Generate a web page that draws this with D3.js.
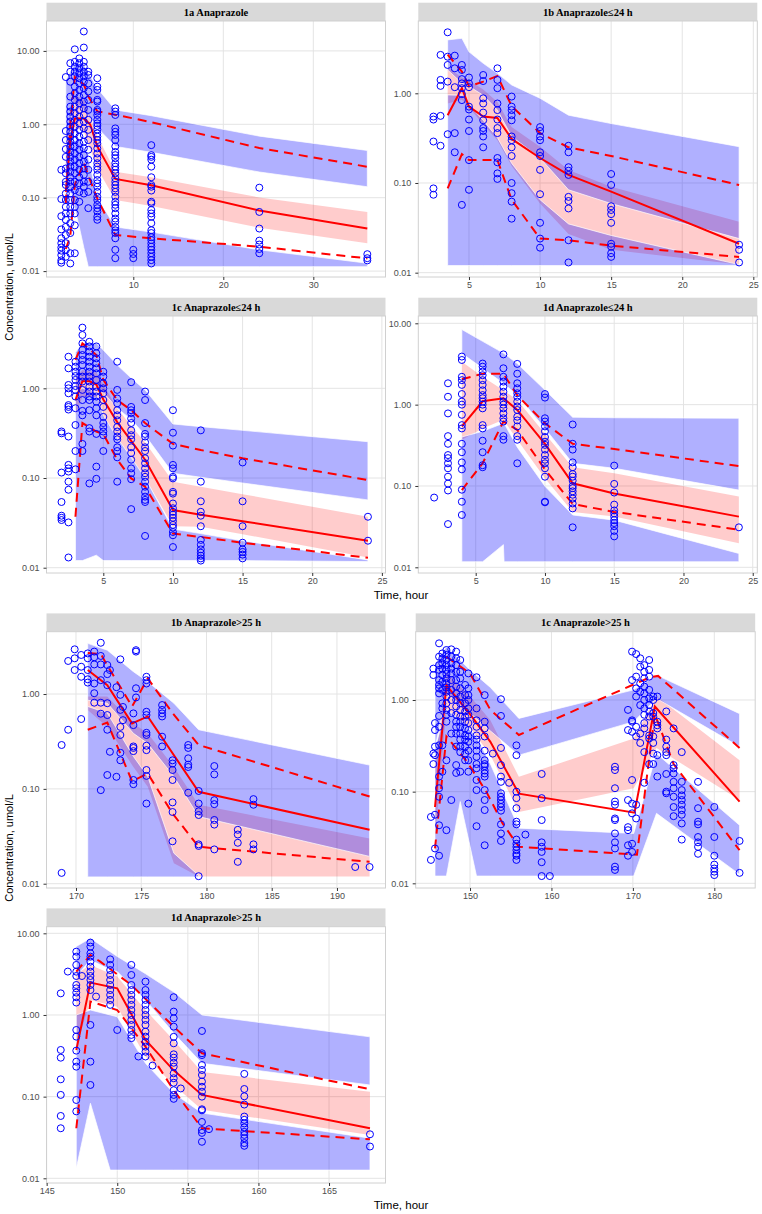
<!DOCTYPE html>
<html>
<head>
<meta charset="utf-8">
<script src="https://cdn.jsdelivr.net/npm/d3@7"></script>
<style>
  body { margin: 0; background: #fff; }
  .tick text { font-family: "Liberation Sans", Arial, sans-serif; font-size: 9px; fill: #4d4d4d; }
  .tick line { stroke: #333; }
</style>
</head>
<body>
<div id="chart"></div>
<script>
// ---- observed concentrations, [time, [values...]] per sampling column ----
const obs1a = [
  [2.0, [0.24,0.096,0.056,0.037,0.028,0.024,0.021,0.019,0.0165,0.014,0.013]],
  [2.5, [4.4,0.81,0.61,0.46,0.36,0.25,0.215,0.165,0.149,0.114,0.093,0.075,0.061,0.05,0.04,0.031,0.024,0.0195,0.0157]],
  [3.0, [6.8,5.2,3.8,2.38,1.74,1.49,1.27,1.09,0.93,0.79,0.68,0.58,0.5,0.42,0.36,0.31,0.265,0.226,0.19,0.165,0.141,0.114,0.093,0.075,0.061,0.045,0.033,0.0175,0.0127]],
  [3.5, [10.5,7.1,6.1,5.2,4.5,3.26,2.65,2.15,1.74,1.41,1.15,0.93,0.75,0.61,0.5,0.4,0.33,0.265,0.215,0.165,0.127,0.093,0.075,0.061,0.042,0.0175]],
  [4.0, [7.9,6.8,5.8,4.96,4.24,3.62,2.94,2.38,1.93,1.57,1.27,1.03,0.84,0.68,0.55,0.45,0.36,0.295,0.24,0.19,0.157,0.12,0.088]],
  [4.5, [18.4,11.1,7.1,6.1,5.2,4.5,3.8,3.1,2.5,2.04,1.65,1.34,1.09,0.88,0.715,0.58,0.47,0.38,0.31,0.25,0.205,0.165,0.141,0.114]],
  [5.0, [5.2,4.7,3.6,2.8,2.15,1.57,1.15,0.84,0.61,0.45,0.33,0.24,0.165,0.12,0.072]],
  [6.0, [4.24,3.26,2.94,2.15,2.04,1.57,1.49,1.34,1.15,1.03,0.95,0.85,0.75,0.68,0.61,0.55,0.47,0.4,0.345,0.295,0.265,0.24,0.205,0.174,0.157,0.141,0.12,0.103,0.093,0.08,0.072,0.065,0.055,0.05]],
  [8.0, [1.65,1.49,1.34,0.88,0.79,0.715,0.61,0.5,0.42,0.38,0.345,0.295,0.265,0.24,0.215,0.184,0.165,0.149,0.134,0.12,0.103,0.088,0.08,0.072,0.061,0.052,0.047,0.04,0.036,0.033,0.028,0.0195,0.015]],
  [10, [0.0195,0.0171,0.015]],
  [12, [0.52,0.38,0.36,0.33,0.265,0.19,0.149,0.141,0.125,0.088,0.084,0.068,0.061,0.055,0.045,0.036,0.033,0.029,0.0265,0.0238,0.0215,0.0195,0.0175,0.0157,0.0141,0.0127]],
  [24, [0.137,0.064,0.038,0.026,0.023,0.02,0.0175]],
  [36, [0.017,0.015,0.014]]
];
const obs1b = [
  [2.5, [0.55,0.51,0.29,0.087,0.074]],
  [3, [2.68,1.41,1.21,0.56,0.26]],
  [3.5, [4.79,2.56,2.07,1.35,0.35]],
  [4, [2.63,1.9,1.17,0.36,0.22]],
  [4.5, [2.07,1.82,1.44,1.29,1.14,0.98,0.84,0.057]],
  [5, [1.5,1.29,1.17,0.71,0.66,0.51,0.38,0.18,0.084]],
  [6, [1.6,1.37,0.88,0.77,0.61,0.5,0.41,0.38,0.33,0.25]],
  [7, [1.9,1.41,1.14,0.77,0.65,0.51,0.41,0.36,0.19,0.17,0.128,0.111]],
  [8, [0.92,0.71,0.65,0.57,0.5,0.33,0.3,0.25,0.2,0.1,0.077,0.062,0.04]],
  [10, [0.42,0.38,0.33,0.3,0.22,0.2,0.14,0.075,0.036,0.024,0.019]],
  [12, [0.26,0.22,0.15,0.137,0.123,0.07,0.063,0.052,0.023,0.013]],
  [15, [0.126,0.095,0.055,0.05,0.045,0.036,0.021,0.0195,0.0165,0.015]],
  [24, [0.0205,0.018,0.013]]
];
const obs1c = [
  [2, [0.33,0.315,0.115,0.054,0.038,0.036,0.034]],
  [2.5, [2.25,1.67,1.09,1.0,0.88,0.65,0.62,0.58,0.29,0.14,0.128,0.118,0.091,0.074,0.032,0.013]],
  [3, [1.98,1.74,1.53,1.37,1.24,1.06,0.96,0.81,0.6,0.39,0.2,0.125]],
  [3.5, [4.75,3.93,3.17,2.67,2.35,2.07,1.82,1.53,1.35,1.19,0.96,0.74,0.56,0.5,0.24,0.2]],
  [4, [3.3,2.93,2.57,2.25,1.98,1.74,1.53,1.35,1.19,1.04,0.92,0.81,0.74,0.57,0.36,0.33,0.087]],
  [4.5, [2.93,2.46,2.16,1.9,1.67,1.47,1.24,1.04,0.92,0.81,0.71,0.6,0.5,0.31,0.134,0.098]],
  [5, [1.53,1.35,1.14,1.0,0.88,0.74,0.62,0.48,0.41,0.37,0.33,0.3,0.2]],
  [6, [1.98,0.96,0.77,0.68,0.57,0.5,0.44,0.37,0.33,0.29,0.27,0.22,0.2,0.17,0.091]],
  [7, [1.17,0.62,0.57,0.53,0.46,0.41,0.34,0.3,0.27,0.22,0.19,0.16,0.128,0.113,0.097,0.045]],
  [8, [0.92,0.74,0.41,0.31,0.29,0.25,0.22,0.2,0.166,0.146,0.128,0.113,0.103,0.091,0.08,0.07,0.062,0.057,0.054,0.0226]],
  [10, [0.57,0.32,0.23,0.14,0.128,0.103,0.099,0.07,0.067,0.052,0.046,0.042,0.039,0.036,0.033,0.03,0.028,0.025,0.023,0.017]],
  [12, [0.34,0.091,0.055,0.042,0.038,0.029,0.0204,0.018,0.016,0.0147,0.0136,0.0127,0.012]],
  [15, [0.149,0.055,0.029,0.019,0.016,0.015,0.014,0.0127]],
  [24, [0.037,0.02]]
];
const obs1d = [
  [2, [0.072]],
  [3, [1.83,1.25,0.78,0.41,0.33,0.24,0.22,0.19,0.165,0.13,0.107,0.088,0.034]],
  [4, [3.9,3.54,2.2,2.0,1.75,1.35,1.09,1.0,0.75,0.56,0.51,0.33,0.26,0.195,0.16,0.09,0.064,0.044]],
  [5.5, [3.2,2.93,2.55,2.3,2.0,1.75,1.5,1.31,1.2,1.09,1.0,0.9,0.56,0.51,0.36,0.26,0.18,0.17]],
  [7, [4.15,2.8,2.2,1.92,1.66,1.44,1.25,1.09,1.0,0.9,0.78,0.68,0.62,0.41,0.37]],
  [8, [3.17,2.4,1.83,1.59,1.38,1.25,1.09,0.95,0.86,0.71,0.64,0.54,0.41,0.37,0.19]],
  [10, [1.35,1.22,0.68,0.62,0.54,0.47,0.4,0.35,0.32,0.28,0.24,0.21,0.19,0.165,0.13,0.064,0.063]],
  [12, [0.57,0.33,0.28,0.195,0.17,0.14,0.13,0.116,0.1,0.094,0.086,0.078,0.07,0.061,0.053,0.031]],
  [15, [0.178,0.106,0.083,0.059,0.05,0.046,0.042,0.038,0.035,0.032,0.028,0.024]],
  [24, [0.031]]
];
const obs1b25 = [
  [168.9, [0.29,0.013]], [169.4, [2.23,0.42]], [169.9, [2.96,2.38,1.79]],
  [170.4, [2.58,1.94,1.52,0.545]], [170.9, [2.68,2.38,1.79,1.43,1.32]],
  [171.4, [2.8,2.44,2.05,1.29,1.02,0.81]], [171.9, [3.47,2.52,2.05,1.4,0.81,0.62,0.097]],
  [172.4, [2.02,1.62,1.24,0.8,0.6,0.42,0.14]], [172.6, [1.79,0.246]], [173.1, [1.18,0.134]],
  [173.4, [2.32,0.98,0.68,0.45,0.37,0.24,0.2]], [173.6, [0.73,0.53]],
  [174.4, [0.625,0.47,0.28,0.27,0.25,0.124,0.112]], [174.6, [2.9,2.8,1.15,0.92]],
  [175.4, [1.52,1.4,1.29,0.65,0.6,0.39,0.37,0.285,0.256,0.158,0.137,0.07]],
  [176.6, [0.765,0.68,0.625,0.58,0.355,0.28]],
  [177.4, [0.2,0.185,0.158,0.124,0.072,0.057,0.028]],
  [178.6, [0.29,0.27,0.21,0.18,0.17,0.091]],
  [179.4, [0.095,0.07,0.058,0.053,0.026,0.025,0.012]],
  [180.6, [0.174,0.142,0.076,0.069,0.047,0.042,0.023]],
  [182.4, [0.037,0.033,0.027,0.017]], [183.6, [0.078,0.068,0.026,0.023]],
  [191.4, [0.015]], [192.5, [0.015]]
];
const obs1c25 = [
  [145.2, [0.053,0.018]], [145.5, [2.2,1.87,0.26,0.2]], [145.7, [0.56,0.47,0.31,0.25,0.056,0.024]],
  [146.2, [4.15,2.97,2.4,2.13,1.65,1.46,1.34,1.18,0.67,0.51,0.32,0.146,0.109,0.088,0.043,0.02]],
  [146.6, [3.22,2.85,2.51,2.2,1.87,1.58,1.29,0.92,0.81,0.32,0.165]],
  [147.1, [3.51,3.1,2.73,2.4,2.13,1.92,1.72,1.52,1.37,1.23,1.09,0.92,0.78,0.69,0.58,0.22,0.038]],
  [147.7, [3.57,2.97,2.51,2.2,1.95,1.65,1.29,1.0,0.72,0.43,0.081]],
  [148.3, [3.37,2.85,2.4,2.03,1.65,1.4,1.18,1.0,0.85,0.69,0.58,0.51,0.43,0.31,0.195,0.16]],
  [148.8, [2.73,2.03,1.72,1.34,1.09,0.92,0.78,0.66,0.58,0.51,0.43,0.37,0.31,0.27,0.165]],
  [149.4, [1.46,1.13,0.92,0.75,0.66,0.58,0.49,0.41,0.37,0.31,0.26,0.22]],
  [149.8, [1.95,1.34,1.13,1.0,0.81,0.69,0.56,0.47,0.4,0.35,0.28,0.22,0.165,0.074]],
  [150.8, [1.77,0.81,0.6,0.51,0.41,0.37,0.32,0.28,0.24,0.2,0.18,0.134,0.104,0.042]],
  [151.8, [1.13,0.58,0.49,0.4,0.28,0.22,0.2,0.19,0.17,0.158,0.146,0.104,0.081,0.063,0.026]],
  [152.8, [0.26]],
  [153.8, [1.02,0.67,0.3,0.195,0.146,0.128,0.096,0.088,0.081,0.074,0.068,0.062,0.044,0.035,0.029]],
  [154.8, [0.125]],
  [155.7, [0.32,0.25,0.1,0.085,0.066,0.047,0.044,0.03,0.027,0.025,0.023,0.021,0.02,0.018]],
  [156.8, [0.034]],
  [158.8, [0.156,0.085,0.049,0.028,0.025,0.022,0.017,0.012]],
  [159.8, [0.012]],
  [167.8, [0.187,0.172,0.109,0.078,0.072,0.051,0.049,0.035,0.028,0.024,0.0152,0.014]],
  [169.4, [0.78,0.47,0.081,0.041,0.038,0.026,0.02]],
  [169.9, [3.37,1.65,0.6,0.58,0.45,0.134,0.074,0.058,0.027,0.022]],
  [170.4, [3.17,1.8,1.34,1.09,0.51,0.4,0.072,0.051]],
  [170.9, [2.85,2.31,1.52,1.23,0.88,0.43,0.34]],
  [171.4, [2.4,2.03,1.72,1.4,1.18,1.0,0.81,0.69,0.56,0.49,0.27,0.125]],
  [172.0, [2.73,2.13,1.8,1.29,1.04,0.88,0.75,0.66,0.41,0.38,0.2]],
  [172.5, [1.09,1.0,0.72,0.66,0.4,0.34,0.26,0.2]],
  [173.0, [1.09,0.58,0.53,0.49,0.25,0.146]],
  [174.1, [0.75,0.37,0.31,0.27,0.25,0.156,0.1,0.096]],
  [175.0, [0.49,0.195,0.18,0.158,0.128,0.109,0.088,0.068,0.054]],
  [176.0, [0.27,0.128,0.104,0.091,0.081,0.072,0.063,0.056,0.045,0.03]],
  [178.0, [0.128,0.066,0.047,0.044,0.032,0.028,0.025,0.021]],
  [180.0, [0.068,0.032,0.02,0.016,0.0145,0.0134,0.0123]],
  [183.1, [0.029,0.013]]
];
const obs1d25 = [
  [146.0, [1.84,0.373,0.30,0.163,0.105,0.058,0.041]],
  [146.5, [3.4]],
  [147.1, [5.96,5.18,4.1,3.39,3.0,2.33,2.12,1.88,1.65,1.42,0.655,0.543,0.366,0.268,0.233,0.091,0.066]],
  [147.5, [3.0]],
  [148.1, [7.7,6.87,5.69,5.18,4.5,3.9,3.39,3.0,2.68,2.33,2.02,0.755,0.268,0.139]],
  [148.5, [1.68]],
  [149.5, [4.8,4.1,3.55,3.09,2.68,2.33,2.02,1.76,1.53,1.33]],
  [150.0, [0.655]],
  [151.0, [4.1,3.09,2.33,2.02,1.76,1.53,1.33,1.15,1.0,0.87,0.755,0.655,0.57,0.52]],
  [151.5, [0.31]],
  [152.0, [2.56,2.02,1.76,1.53,1.33,1.15,1.0,0.87,0.755,0.625,0.543,0.47,0.41,0.355,0.31]],
  [152.5, [0.24]],
  [154.0, [1.65,1.1,0.91,0.72,0.54,0.45,0.33,0.3,0.26,0.233,0.193,0.168,0.148,0.12,0.105,0.094]],
  [154.5, [0.126]],
  [156.0, [0.637,0.34,0.323,0.244,0.212,0.184,0.153,0.132,0.115,0.1,0.07,0.068,0.049,0.039,0.036,0.028]],
  [156.5, [0.04]],
  [159.0, [0.19,0.124,0.101,0.08,0.057,0.052,0.047,0.042,0.037,0.034,0.031,0.027,0.025]],
  [167.9, [0.0346,0.0245]]
];

// ---- observed percentiles: median (solid), 5th and 95th (dashed), [time, value] ----
const med1a = [[2.5,0.12],[3,0.6],[3.5,1.2],[4.5,1.2],[5.2,1.0],[6,0.5],[8,0.18],[12,0.148],[24,0.067],[36,0.038]];
const p95_1a = [[2.5,0.083],[3,1.0],[3.5,4.4],[4.5,3.5],[5,2.4],[6,1.5],[8,1.35],[12,1.07],[24,0.475],[36,0.264]];
const p05_1a = [[2.5,0.02],[3,0.03],[3.5,0.15],[4.5,0.3],[5,0.2],[6,0.098],[8,0.031],[12,0.028],[24,0.0215],[36,0.0149]];

const med1b = [[3.5,0.57],[4.5,1.14],[5,0.71],[6,0.55],[7,0.53],[8,0.31],[10,0.19],[12,0.123],[15,0.08],[24,0.021]];
const p95_1b = [[3.5,2.7],[4.5,1.75],[5,1.2],[6,1.35],[7,1.56],[8,0.72],[10,0.36],[12,0.25],[15,0.2],[24,0.095]];
const p05_1b = [[3.5,0.087],[4.5,0.21],[5,0.18],[6,0.18],[7,0.18],[8,0.065],[10,0.024],[12,0.023],[15,0.02],[24,0.015]];

const med1c = [[3,0.74],[3.5,1.2],[4,1.2],[4.5,1.1],[5,0.75],[6,0.42],[7,0.26],[8,0.16],[10,0.044],[12,0.039],[15,0.033],[24,0.02]];
const p95_1c = [[3,2.07],[3.5,3.17],[4.5,2.35],[5,1.24],[6,0.74],[7,0.57],[8,0.41],[10,0.24],[12,0.205],[15,0.166],[24,0.095]];
const p05_1c = [[3,0.037],[3.5,0.41],[4.5,0.33],[5,0.31],[6,0.16],[7,0.099],[8,0.08],[10,0.024],[12,0.022],[15,0.019],[24,0.0129]];

const med1d = [[4,0.54],[5.5,1.1],[7,1.2],[8,0.86],[10,0.33],[12,0.108],[15,0.081],[24,0.042]];
const p95_1d = [[4,2.05],[5.5,2.4],[7,2.4],[8,1.3],[10,0.59],[12,0.33],[15,0.285],[24,0.176]];
const p05_1d = [[4,0.089],[5.5,0.19],[7,0.62],[8,0.49],[10,0.16],[12,0.06],[15,0.048],[24,0.029]];

const med1b25 = [[170.9,1.79],[172.4,1.24],[174.3,0.49],[175.5,0.58],[179.4,0.093],[192.5,0.037]];
const p95_1b25 = [[170.9,2.7],[171.9,2.65],[172.4,2.0],[174.3,0.74],[175.5,1.46],[177.4,0.63],[179.4,0.29],[192.5,0.083]];
const p05_1b25 = [[170.9,0.42],[172.4,0.5],[174.3,0.12],[175.5,0.145],[177.4,0.055],[179.4,0.0245],[192.5,0.017]];

const med1c25 = [[145.7,0.068],[147.1,1.45],[150,0.7],[152.5,0.35],[156,0.095],[170.2,0.059],[172.7,0.85],[183.1,0.078]];
const p95_1c25 = [[147.1,2.97],[150,1.95],[152.5,0.78],[156,0.415],[172.1,1.77],[173.1,1.83],[183.1,0.3]];
const p05_1c25 = [[145.7,0.024],[147.1,0.4],[149.5,0.22],[152,0.1],[154,0.045],[156,0.025],[159,0.024],[170.5,0.0205],[172.7,0.7],[175,0.2],[183.1,0.023]];

const med1d25 = [[147.1,0.373],[148.1,2.49],[150,2.12],[152,0.494],[154,0.21],[156,0.105],[167.9,0.041]];
const p95_1d25 = [[147.1,3.4],[148.1,5.4],[148.8,4.5],[151,2.33],[154,0.72],[156,0.34],[167.9,0.123]];
const p05_1d25 = [[147.1,0.041],[148.1,1.46],[150,1.15],[152,0.41],[154,0.12],[156,0.041],[167.9,0.03]];

// ---- simulated prediction intervals, [time, low, high] ----
const band05_1a = [[2.5,0.12,0.5],[3.1,0.115,0.6],[4,0.04,0.6],[4.5,0.021,0.5],[5,0.0115,0.35],[6,0.0115,0.1],[8,0.0115,0.04],[12,0.0115,0.034],[24,0.0115,0.0195],[36,0.0115,0.0128]];
const band50_1a = [[2.5,0.08,0.5],[3,0.4,1.6],[3.5,0.9,2.5],[4.5,0.8,2.2],[6,0.25,0.7],[8,0.093,0.226],[12,0.077,0.19],[24,0.039,0.101],[36,0.024,0.064]];
const band95_1a = [[2.5,0.5,4],[3.5,2.0,6.8],[4.5,1.6,6.5],[6,0.9,3.1],[8,0.5,1.57],[12,0.415,1.31],[24,0.224,0.69],[36,0.141,0.44]];

const band05_1b = [[3.5,0.012,0.96],[4.5,0.012,0.95],[5,0.012,0.75],[6,0.012,0.5],[7,0.012,0.32],[8,0.012,0.166],[10,0.012,0.065],[12,0.012,0.035],[15,0.012,0.026],[24,0.012,0.0123]];
const band50_1b = [[3.5,0.77,1.95],[4.5,0.85,1.5],[5,0.7,1.4],[6,0.45,1.1],[7,0.3,0.8],[8,0.155,0.42],[10,0.059,0.254],[12,0.027,0.14],[15,0.018,0.091],[24,0.0123,0.037]];
const band95_1b = [[3.5,1.82,3.94],[4.5,1.3,4.1],[5,1.2,2.9],[6,0.95,2.16],[7,0.65,1.67],[8,0.33,1.24],[10,0.19,0.88],[12,0.084,0.57],[15,0.059,0.46],[24,0.024,0.254]];

const band05_1c = [[3,0.012,0.9],[3.5,0.012,1.0],[4.5,0.0138,0.9],[5,0.012,0.5],[6,0.012,0.28],[7,0.012,0.17],[8,0.012,0.1],[10,0.012,0.027],[12,0.012,0.024],[15,0.012,0.02],[24,0.0117,0.0122]];
const band50_1c = [[3,0.5,1.3],[3.5,0.8,1.6],[4.5,0.8,1.5],[5,0.5,1.1],[6,0.28,0.6],[7,0.17,0.38],[8,0.1,0.25],[10,0.029,0.091],[12,0.0287,0.08],[15,0.0236,0.066],[24,0.013,0.037]];
const band95_1c = [[3,0.9,2.5],[3.5,1.2,3.2],[4.5,1.1,3.2],[5,0.9,2.67],[6,0.6,1.82],[7,0.45,1.3],[8,0.3,0.96],[10,0.113,0.4],[12,0.102,0.374],[15,0.088,0.34],[24,0.057,0.254]];

const band05_1d = [[4,0.0117,0.4],[5.5,0.0117,0.47],[7,0.019,0.59],[7.05,0.0117,0.59],[8,0.0117,0.3],[10,0.0117,0.099],[12,0.0117,0.044],[15,0.0117,0.038],[24,0.0117,0.0148]];
const band50_1d = [[4,0.37,3.38],[5.5,0.51,2.2],[7,0.65,1.5],[8,0.37,1.14],[10,0.124,0.44],[12,0.048,0.17],[15,0.042,0.143],[24,0.0197,0.074]];
const band95_1d = [[4,4.27,8.4],[5.5,2.8,6.0],[7,1.83,4.3],[8,1.31,3.2],[10,0.51,1.51],[12,0.19,0.7],[15,0.165,0.69],[24,0.089,0.68]];

const band05_1b25 = [[170.9,0.0118,0.74],[172.4,0.0118,0.63],[174.4,0.0118,0.22],[175.5,0.0118,0.135],[177.5,0.0118,0.021],[179.4,0.0118,0.0122]];
const band50_1b25 = [[170.9,0.68,0.94],[172.4,0.45,0.94],[174.4,0.17,0.49],[175.5,0.105,0.385],[177.5,0.0164,0.17],[179.4,0.0119,0.068],[192.5,0.0119,0.03]];
const band95_1b25 = [[170.9,0.86,3.42],[172.4,0.8,2.9],[174.4,0.385,1.72],[175.5,0.3,1.35],[177.5,0.135,0.8],[179.4,0.051,0.42],[192.5,0.0194,0.178]];

const band05_1c25 = [[145.7,0.012,0.3],[147.1,0.012,0.8],[148.8,0.078,0.6],[150.8,0.012,0.4],[152.5,0.012,0.2],[156,0.012,0.04],[170.1,0.012,0.035],[172.9,0.058,0.26],[183.1,0.0125,0.043]];
const band50_1c25 = [[145.7,0.03,0.2],[147.1,0.8,2.0],[150,0.5,1.1],[152.5,0.25,0.6],[156,0.06,0.145],[170.1,0.109,0.38],[172.9,0.3,1.1],[183.1,0.081,0.22]];
const band95_1c25 = [[145.7,0.3,2.5],[147.1,1.18,3.8],[150,0.72,2.13],[152.5,0.46,1.37],[156,0.25,0.63],[170.1,0.58,1.29],[172.9,1.04,1.87],[183.1,0.31,0.71]];

const band05_1d25 = [[147.1,0.0133,1.0],[148.1,0.083,1.15],[149.5,0.0126,1.0],[150,0.0126,0.95],[152,0.0126,0.256],[154,0.0126,0.11],[156,0.0126,0.063],[167.9,0.0126,0.031]];
const band50_1d25 = [[147.1,0.4,3.2],[148.1,1.53,4.1],[150,1.26,2.95],[152,0.31,1.15],[154,0.139,0.49],[156,0.069,0.2],[167.9,0.034,0.115]];
const band95_1d25 = [[147.1,3.0,6.9],[148.1,4.7,8.7],[149.5,3.6,5.96],[150,3.4,5.2],[152,1.53,3.2],[154,0.6,1.91],[156,0.256,1.0],[167.9,0.139,0.54]];

// ---- tick values ----
const yTicks3 = [0.01, 0.1, 1];
const yTicks4 = [0.01, 0.1, 1, 10];

(function () {

  var width = 762, height = 1214

  var svg = d3.select("#chart").append("svg")
      .attr("width", width)
      .attr("height", height)
      .style("font-family", "'Liberation Sans', Arial, sans-serif")

  // facet layout (pixel boxes of each panel) and axis settings
  var panels = [
    { title: "1a Anaprazole", obs: obs1a, med: med1a, p05: p05_1a, p95: p95_1a, b05: band05_1a, b50: band50_1a, b95: band95_1a,
      left: 46.5, right: 385.5, top: 21, bottom: 277, xd: [0.356, 38.02], yd: [0.00831, 25.55], xt: [10, 20, 30], yt: yTicks4 },
    { title: "1b Anaprazole≤24 h", obs: obs1b, med: med1b, p05: p05_1b, p95: p95_1b, b05: band05_1b, b50: band50_1b, b95: band95_1b,
      left: 418.3, right: 757.3, top: 21, bottom: 277, xd: [1.435, 25.28], yd: [0.00895, 6.40], xt: [5, 10, 15, 20, 25], yt: yTicks3 },
    { title: "1c Anaprazole≤24 h", obs: obs1c, med: med1c, p05: p05_1c, p95: p95_1c, b05: band05_1c, b50: band50_1c, b95: band95_1c,
      left: 46.5, right: 385.5, top: 316, bottom: 573, xd: [0.922, 25.26], yd: [0.00873, 6.40], xt: [5, 10, 15, 20, 25], yt: yTicks3 },
    { title: "1d Anaprazole≤24 h", obs: obs1d, med: med1d, p05: p05_1d, p95: p95_1d, b05: band05_1d, b50: band50_1d, b95: band95_1d,
      left: 418.3, right: 757.3, top: 316, bottom: 573, xd: [0.856, 25.33], yd: [0.00851, 12.30], xt: [5, 10, 15, 20, 25], yt: yTicks4 },
    { title: "1b Anaprazole>25 h", obs: obs1b25, med: med1b25, p05: p05_1b25, p95: p95_1b25, b05: band05_1b25, b50: band50_1b25, b95: band95_1b25,
      left: 46.5, right: 385.5, top: 631.7, bottom: 888, xd: [167.74, 193.72], yd: [0.00901, 4.54], xt: [170, 175, 180, 185, 190], yt: yTicks3 },
    { title: "1c Anaprazole>25 h", obs: obs1c25, med: med1c25, p05: p05_1c25, p95: p95_1c25, b05: band05_1c25, b50: band50_1c25, b95: band95_1c25,
      left: 415.7, right: 755.2, top: 631.7, bottom: 888, xd: [143.33, 185.02], yd: [0.00889, 5.56], xt: [150, 160, 170, 180], yt: yTicks3 },
    { title: "1d Anaprazole>25 h", obs: obs1d25, med: med1d25, p05: p05_1d25, p95: p95_1d25, b05: band05_1d25, b50: band50_1d25, b95: band95_1d25,
      left: 46.5, right: 385.5, top: 926.7, bottom: 1183, xd: [144.99, 169.0], yd: [0.00876, 12.05], xt: [145, 150, 155, 160, 165], yt: yTicks4 }
  ]

  panels.forEach(function (p, i) {
    var x = d3.scaleLinear().domain(p.xd).range([p.left, p.right])
    var y = d3.scaleLog().domain(p.yd).range([p.bottom, p.top])
    var g = svg.append("g")

    // strip
    g.append("rect")
      .attr("x", p.left).attr("y", p.top - 18.3)
      .attr("width", p.right - p.left).attr("height", 18.3)
      .attr("fill", "#d9d9d9")
    g.append("text")
      .attr("x", (p.left + p.right) / 2).attr("y", p.top - 5.5)
      .attr("text-anchor", "middle")
      .attr("font-family", "'Liberation Serif', 'Times New Roman', serif")
      .attr("font-weight", "bold").attr("font-size", "10.5px")
      .text(p.title)

    // clip
    g.append("clipPath").attr("id", "clip" + i)
      .append("rect")
      .attr("x", p.left).attr("y", p.top)
      .attr("width", p.right - p.left).attr("height", p.bottom - p.top)

    // grid
    g.selectAll(".gx").data(p.xt).join("line")
      .attr("x1", d => x(d)).attr("x2", d => x(d))
      .attr("y1", p.top).attr("y2", p.bottom)
      .attr("stroke", "#e4e4e4").attr("stroke-width", 1)
    g.selectAll(".gy").data(p.yt).join("line")
      .attr("x1", p.left).attr("x2", p.right)
      .attr("y1", d => y(d)).attr("y2", d => y(d))
      .attr("stroke", "#e4e4e4").attr("stroke-width", 1)

    var marks = g.append("g").attr("clip-path", "url(#clip" + i + ")")

    // prediction interval ribbons
    var area = d3.area()
      .x(d => x(d[0]))
      .y0(d => y(d[1]))
      .y1(d => y(d[2]))

    marks.append("path").datum(p.b50)
      .attr("d", area)
      .attr("fill", "#ff0000").attr("fill-opacity", 0.2)
    ;[p.b05, p.b95].forEach(function (b) {
      marks.append("path").datum(b)
        .attr("d", area)
        .attr("fill", "#0000ff").attr("fill-opacity", 0.31)
        .attr("stroke", "#ffffff").attr("stroke-width", 0.7)
    })

    // observed percentile lines
    var line = d3.line()
      .x(d => x(d[0]))
      .y(d => y(d[1]))

    marks.append("path").datum(p.med)
      .attr("d", line)
      .attr("fill", "none").attr("stroke", "#ff0000").attr("stroke-width", 2)
    ;[p.p05, p.p95].forEach(function (l) {
      marks.append("path").datum(l)
        .attr("d", line)
        .attr("fill", "none").attr("stroke", "#ff0000").attr("stroke-width", 2)
        .attr("stroke-dasharray", "9,6")
    })

    // observations
    var pts = []
    p.obs.forEach(function (c) {
      c[1].forEach(function (v) { pts.push([c[0], v]) })
    })
    marks.selectAll("circle")
      .data(pts)
      .join("circle")
      .attr("cx", d => x(d[0]))
      .attr("cy", d => y(d[1]))
      .attr("r", 3.5)
      .attr("fill", "none")
      .attr("stroke", "#0000ff")
      .attr("stroke-width", 1)

    // panel border
    g.append("rect")
      .attr("x", p.left).attr("y", p.top)
      .attr("width", p.right - p.left).attr("height", p.bottom - p.top)
      .attr("fill", "none").attr("stroke", "#d0d0d0").attr("stroke-width", 1)

    // axes
    var xAxis = d3.axisBottom(x).tickValues(p.xt).tickFormat(d3.format("d")).tickSize(3).tickPadding(2)
    g.append("g")
      .attr("transform", "translate(0," + p.bottom + ")")
      .call(xAxis)
      .call(a => a.select(".domain").remove())

    var yAxis = d3.axisLeft(y).tickValues(p.yt).tickFormat(d3.format(".2f")).tickSize(3).tickPadding(4)
    g.append("g")
      .attr("transform", "translate(" + p.left + ",0)")
      .call(yAxis)
      .call(a => a.select(".domain").remove())
  })

  // axis titles
  var yTitles = [287, 848]
  yTitles.forEach(function (cy) {
    svg.append("text")
      .attr("transform", "translate(13," + cy + ") rotate(-90)")
      .attr("text-anchor", "middle")
      .attr("font-size", "11px")
      .text("Concentration, umol/L")
  })
  var xTitles = [598.5, 1208.5]
  xTitles.forEach(function (by) {
    svg.append("text")
      .attr("x", 401).attr("y", by)
      .attr("text-anchor", "middle")
      .attr("font-size", "11.5px")
      .text("Time, hour")
  })

})();
</script>
</body>
</html>
